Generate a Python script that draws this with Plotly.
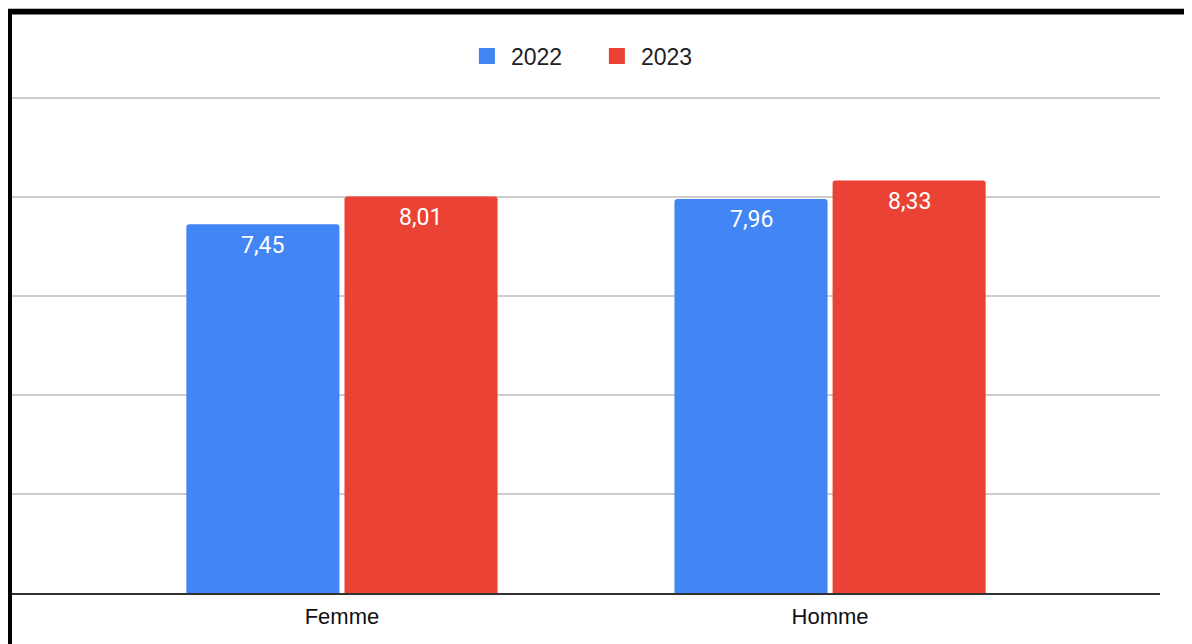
import plotly.graph_objs as go

# colours (Google Sheets palette)
BLUE = '#4285F4'
RED = '#EA4335'
GRID = '#CCCCCC'
BASE = '#333333'

categories = ['Femme', 'Homme']
years = ['2022', '2023']
values_2022 = [7.45, 7.96]
values_2023 = [8.01, 8.33]
y_ticks = [0, 2, 4, 6, 8, 10]

series = [
    (years[0], values_2022, BLUE, -79),
    (years[1], values_2023, RED, 79),
]

fig = go.Figure()
for name, vals, color, _ in series:
    fig.add_trace(go.Bar(
        x=categories, y=vals, name=name,
        marker=dict(color=color, line=dict(width=0)),
        hoverinfo='skip', showlegend=False,
    ))
# legend entries with bigger square swatches
for name, vals, color, _ in series:
    fig.add_trace(go.Scatter(
        x=[None], y=[None], name=name, mode='markers',
        marker=dict(symbol='square', size=20, color=color),
        hoverinfo='skip',
    ))

# value labels inside the top of each bar
annotations = []
for name, vals, color, shift in series:
    for cat, v in zip(categories, vals):
        annotations.append(dict(
            x=cat, y=v, xref='x', yref='y',
            text=f'{v:.2f}'.replace('.', ','),
            showarrow=False, xshift=shift, yshift=-21,
            font=dict(family='Roboto', size=23, color='white'),
        ))

# black frame on the top and left edges of the picture
shapes = [
    # thin grey line above the frame
    dict(type='rect', xref='paper', yref='paper', xanchor=0, yanchor=1,
         xsizemode='pixel', ysizemode='pixel',
         x0=-5, x1=1200, y0=86, y1=84, fillcolor='#BBBBBB', line_width=0, layer='above'),
    # top bar
    dict(type='rect', xref='paper', yref='paper', xanchor=0, yanchor=1,
         xsizemode='pixel', ysizemode='pixel',
         x0=-5, x1=1200, y0=84, y1=78.5, fillcolor='black', line_width=0, layer='above'),
    # left bar
    dict(type='rect', xref='paper', yref='paper', xanchor=0, yanchor=1,
         xsizemode='pixel', ysizemode='pixel',
         x0=-5, x1=0, y0=84, y1=-560, fillcolor='black', line_width=0, layer='above'),
]

fig.update_layout(
    width=1184, height=636,
    barmode='group',
    bargap=0.352,
    bargroupgap=0.032,
    barcornerradius=3,
    plot_bgcolor='white',
    paper_bgcolor='white',
    margin=dict(l=4, r=32, t=85, b=51, pad=0),
    font=dict(family='Liberation Sans, Arial, sans-serif', color='#222222'),
    showlegend=True,
    legend=dict(
        orientation='h', x=0.506, xanchor='center', y=1.074, yanchor='middle',
        font=dict(size=23, color='#222222'),
        itemwidth=38, entrywidth=77,
        itemclick=False, itemdoubleclick=False,
    ),
    xaxis=dict(
        range=[-0.676, 1.676],
        showgrid=False,
        showline=True, linecolor=BASE, linewidth=2,
        ticks='', tickfont=dict(size=22, color='#111111'),
        ticklabelstandoff=3,
        fixedrange=True,
    ),
    yaxis=dict(
        range=[0, 10.1],
        tickmode='array', tickvals=y_ticks,
        showticklabels=False,
        showgrid=True, gridcolor=GRID, gridwidth=1.5,
        zeroline=False, showline=False,
        fixedrange=True,
    ),
    annotations=annotations,
    shapes=shapes,
)

fig.write_html('out.html', config={'displayModeBar': False})
